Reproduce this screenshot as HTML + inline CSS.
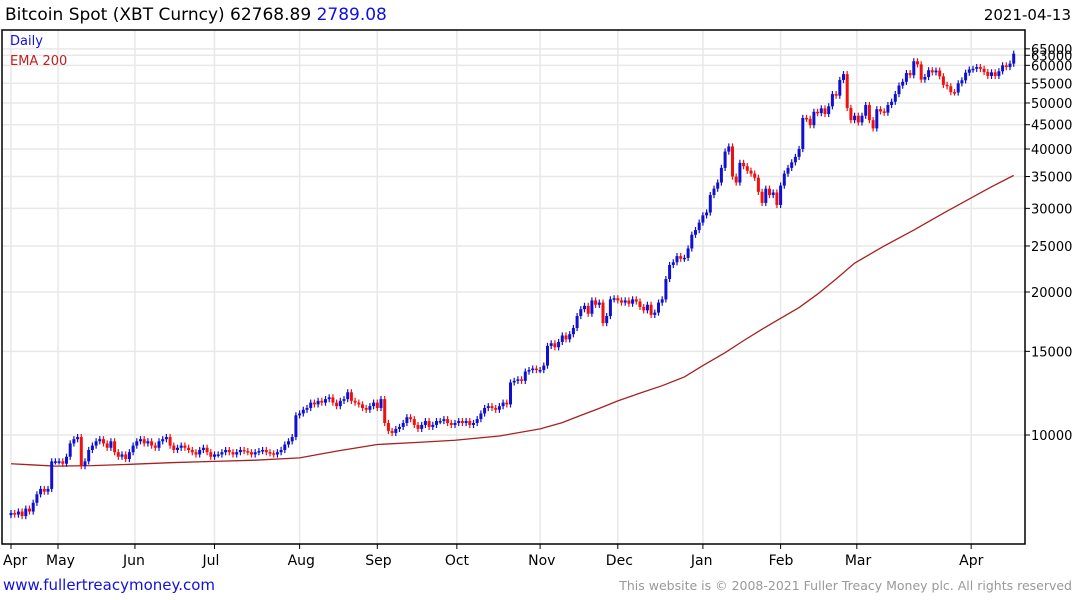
<!DOCTYPE html>
<html><head><meta charset="utf-8"><style>
body{margin:0;background:#fff;width:1075px;height:600px;overflow:hidden;font-family:"DejaVu Sans","Liberation Sans",sans-serif}
svg{position:absolute;left:0;top:0}
</style></head><body>
<svg id="chart" width="1075" height="600" font-family="DejaVu Sans, Liberation Sans, sans-serif">
<text x="5" y="20" font-size="17" fill="#000">Bitcoin Spot (XBT Curncy) 62768.89 <tspan fill="#1010e0">2789.08</tspan></text>
<text x="1071" y="20" font-size="15" text-anchor="end" fill="#000">2021-04-13</text>
<g id="grid"></g>
<g id="ema"></g>
<g id="candles"></g>
<rect x="2" y="30" width="1023" height="514" fill="none" stroke="#000" stroke-width="1.5"/>
<g id="axes"></g>
<text x="10" y="45" font-size="13" fill="#1010e0">Daily</text>
<text x="10" y="65" font-size="13" fill="#c02020">EMA 200</text>
<text x="3" y="590" font-size="15" fill="#1010e0">www.fullertreacymoney.com</text>
<text x="1072" y="590" font-size="12.5" text-anchor="end" fill="#999">This website is © 2008-2021 Fuller Treacy Money plc. All rights reserved</text>
</svg>
<script>
const closes=[6850,6800,6900,6750,7000,6900,7200,7500,7700,7600,7700,8800,8800,
8800,8700,9000,9600,9800,9900,8600,8800,9300,9500,9700,9800,9600,9400,9700,9200,9000,9100,8900,9200,9500,
9700,9800,9600,9700,9500,9400,9700,9800,9900,9500,9300,9400,9500,9400,9300,9200,9100,9300,9400,9200,9000,9100,
9100,9200,9300,9200,9100,9200,9300,9250,9200,9100,9200,9250,9300,9200,9150,9100,9200,9300,9550,9700,9900,11000,11100,
11300,11400,11700,11600,11800,11700,11900,12000,11700,11500,11800,11900,12300,11800,11700,11600,11400,11300,11500,11700,11400,
11900,10600,10200,10100,10300,10400,10600,10900,10800,10500,10300,10500,10700,10400,10500,10700,10700,10800,10600,10500,10600,
10700,10600,10700,10500,10600,10800,11100,11400,11500,11400,11300,11500,11700,11600,12900,13000,13100,13000,13600,13700,13800,13700,
13700,14000,15400,15600,15300,15700,16200,15900,16300,16800,17800,18400,18700,18000,19200,18800,19000,17200,17800,19300,19400,19200,
19000,19200,18900,19300,19100,18600,18300,18800,17900,18100,19000,19300,21300,22800,23100,23800,23500,23600,24700,26400,27000,28000,29000,
29400,32000,33000,34000,36500,39500,40500,35000,34000,37400,36800,36000,35500,34800,32500,30800,33000,32000,32400,30500,33500,
35500,36500,37500,38500,40000,46500,46300,44900,47900,47600,48700,47400,49200,52200,51800,55900,57500,48800,46000,47000,
45500,47000,49500,46000,44200,48500,48000,47700,49500,50300,52200,54400,55400,57800,57200,61200,60300,56000,56700,58600,58000,58500,56900,54600,54200,52700,52600,55000,55800,57900,58800,
59000,59500,59000,58100,57000,58000,57000,58300,60000,59500,60500,63500];
const emaIdx=[0,6,12,22,33,44,55,66,78,88,99,110,120,132,143,149,154,159,164,170,176,182,187,193,198,203,208,213,218,223,228,236,244,252,259,265,271];
const emaVals=[8700,8650,8600,8620,8680,8750,8800,8850,8950,9250,9550,9650,9750,9950,10300,10620,11000,11380,11800,12250,12700,13250,14000,14900,15800,16700,17600,18550,19800,21300,23000,25000,27000,29300,31400,33300,35200];
const yTicks=[10000,15000,20000,25000,30000,35000,40000,45000,50000,55000,60000,63000,65000];
const monthLabels=["Apr","May","Jun","Jul","Aug","Sep","Oct","Nov","Dec","Jan","Feb","Mar","Apr"];
const monthIdx=[0,12.7,33.5,55,78,99,120.5,143,164,187,208,228.6,259.5];

const NS="http://www.w3.org/2000/svg";
const X=i=>11+i*3.7;
const Y=v=>435-143*Math.log2(v/10000);
function mk(tag,attrs,parent){const e=document.createElementNS(NS,tag);for(const k in attrs)e.setAttribute(k,attrs[k]);parent.appendChild(e);return e;}
const grid=document.getElementById('grid'),axes=document.getElementById('axes'),cg=document.getElementById('candles'),eg=document.getElementById('ema');
yTicks.forEach(t=>{const y=Y(t);
 const l=mk('line',{x1:2,x2:1025,y1:y,y2:y,stroke:'#e8e8e8','stroke-width':1.5},grid);
 
 
 const tk=mk('line',{x1:1025,x2:1030,y1:y,y2:y,stroke:'#000'},axes);
 
 
 const tx=mk('text',{x:1031,y:y+5,'font-size':13,fill:'#000'},axes);tx.textContent=t;
 
 
});
monthIdx.forEach((m,k)=>{const x=X(m);
 const l=mk('line',{x1:x,x2:x,y1:30,y2:544,stroke:'#e8e8e8','stroke-width':1.5},grid);
 
 
 const tk=mk('line',{x1:x,x2:x,y1:544,y2:549,stroke:'#000'},axes);
 
 
 const tx=mk('text',{x:k==0?x-8:x-12,y:565,'font-size':14,fill:'#000'},axes);tx.textContent=monthLabels[k];
 
 
});
let pts=emaIdx.map((i,k)=>X(i)+','+Y(emaVals[k])).join(' ');
const pl=mk('polyline',{points:pts,fill:'none',stroke:'#a82020','stroke-width':1.3},eg);


closes.forEach((c,i)=>{
 const o=i?closes[i-1]:c*0.99;const up=c>=o;const col=up?'#1010d0':'#f01010';
 const hi=Math.max(o,c)*1.015,lo=Math.min(o,c)*0.985;const x=X(i);
 const w=mk('line',{x1:x,x2:x,y1:Y(hi),y2:Y(lo),stroke:col,'stroke-width':1.2},cg);
 
 
 const top=Y(Math.max(o,c)),h=Math.max(1.5,Y(Math.min(o,c))-top);
 const b=mk('rect',{x:x-1.5,y:top,width:3,height:h,fill:col},cg);
 
 
});
</script>
</body></html>
